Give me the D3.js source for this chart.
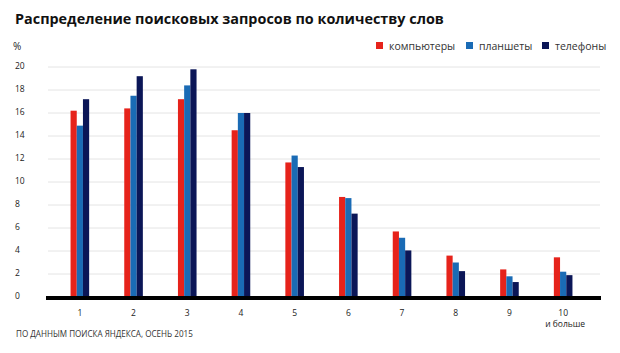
<!DOCTYPE html>
<html><head><meta charset="utf-8">
<script src="https://cdn.jsdelivr.net/npm/d3@7"></script>
<style>body{margin:0;background:#fff;}svg{display:block;font-family:"Open Sans",sans-serif;}</style>
</head><body><svg id="c" width="620" height="353"></svg>
<script>
const categories = ["1","2","3","4","5","6","7","8","9","10"];
const seriesNames = ["компьютеры","планшеты","телефоны"];
const computers = [16.2,16.4,17.2,14.5,11.7,8.7,5.7,3.6,2.4,3.45];
const tablets   = [14.9,17.5,18.4,16.0,12.3,8.6,5.15,3.0,1.8,2.2];
const phones    = [17.2,19.2,19.8,16.0,11.3,7.25,4.05,2.25,1.3,1.9];
const yTicks = [0,2,4,6,8,10,12,14,16,18,20];
const colors = ["#e6231b","#1a6bb5","#0b1657"];
const series = [computers, tablets, phones];

const svg = d3.select("#c");
const y = d3.scaleLinear().domain([0,20]).range([297,67]);
const x = d3.scaleBand().domain(categories).range([53,590]);
const xs = d3.scaleBand().domain(seriesNames).range([0,18.6]);

svg.append("text").attr("x",15).attr("y",24).attr("font-size",14.4).attr("font-weight",700)
  .attr("fill","#111").text("Распределение поисковых запросов по количеству слов");
svg.append("text").attr("x",13).attr("y",50).attr("font-size",10).attr("fill","#222").text("%");

// grid
svg.append("g").selectAll("line").data(yTicks.filter(d=>d>0)).join("line")
  .attr("x1",48).attr("x2",600).attr("y1",d=>y(d)).attr("y2",d=>y(d))
  .attr("stroke","#e4e4e4").attr("stroke-width",1);
// y labels
svg.append("g").selectAll("text").data(yTicks).join("text")
  .attr("x",15).attr("y",d=>y(d)-1).attr("dy","0.35em").attr("font-size",8.5).attr("fill","#222")
  .text(d=>d);

// bars
series.forEach((s,i)=>{
  svg.append("g").selectAll("rect").data(s).join("rect")
    .attr("x",(d,j)=>x(categories[j])+x.bandwidth()/2-9.3+xs(seriesNames[i]))
    .attr("width",xs.bandwidth())
    .attr("y",d=>y(d)).attr("height",d=>y(0)-y(d))
    .attr("fill",colors[i]);
});
// baseline
svg.append("line").attr("x1",46).attr("x2",601).attr("y1",y(0)+1).attr("y2",y(0)+1)
  .attr("stroke","#000").attr("stroke-width",4);

// x labels
svg.append("g").selectAll("text").data(categories).join("text")
  .attr("x",d=>x(d)+x.bandwidth()/2).attr("y",313).attr("dy","0.35em")
  .attr("text-anchor","middle").attr("font-size",8.5).attr("fill","#222").text(d=>d);
svg.append("text").attr("x",x("10")+x.bandwidth()/2+2).attr("y",324).attr("dy","0.35em")
  .attr("text-anchor","middle").attr("font-size",8.5).attr("fill","#222").text("и больше");

// legend
const legX = [376,466,542];
seriesNames.forEach((n,i)=>{
  svg.append("rect").attr("x",legX[i]).attr("y",42).attr("width",7).attr("height",7).attr("fill",colors[i]);
  svg.append("text").attr("x",legX[i]+13).attr("y",46).attr("dy","0.35em").attr("font-size",10.5)
    .attr("fill","#333").text(n);
});

svg.append("text").attr("x",16).attr("y",334).attr("dy","0.35em").attr("font-size",8.1)
  .attr("fill","#333").text("ПО ДАННЫМ ПОИСКА ЯНДЕКСА, ОСЕНЬ 2015");
</script></body></html>
